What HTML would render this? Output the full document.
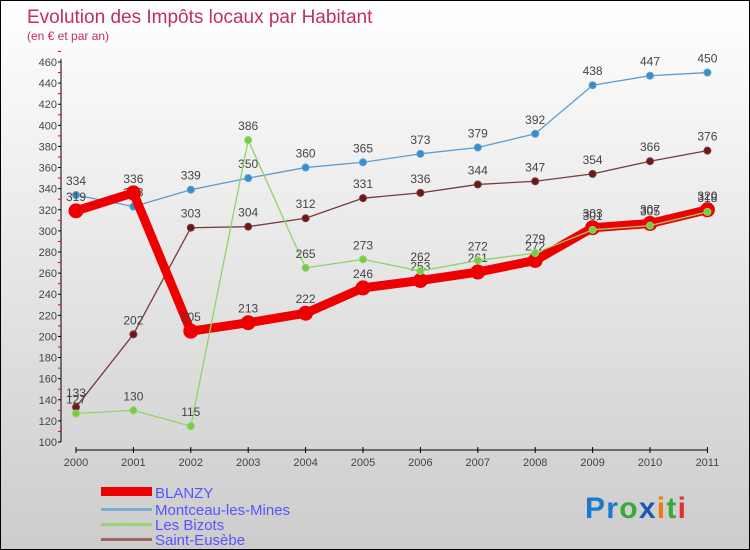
<!DOCTYPE html>
<html><head><meta charset="utf-8"><style>
body{margin:0}
#c{width:748px;height:548px;border:1px solid #000;background:linear-gradient(#fff,#ccc);position:relative;font-family:"Liberation Sans",sans-serif;overflow:hidden}
svg text{font-family:"Liberation Sans",sans-serif}
</style></head><body>
<div id="c">
<svg id="s" width="748" height="548">
<text x="26" y="22" font-size="19" fill="#c0305a">Evolution des Impôts locaux par Habitant</text>
<text x="26" y="39" font-size="12" fill="#c0305a">(en € et par an)</text>
<g id="axes"></g><g id="series"></g>
<g>
<rect x="100" y="486" width="51" height="9" fill="#e00"/>
<text x="154" y="497" font-size="15" fill="#55f">BLANZY</text>
<rect x="100" y="507" width="51" height="3" fill="#7aaed0"/>
<text x="154" y="514" font-size="15" fill="#55f">Montceau-les-Mines</text>
<rect x="100" y="522" width="51" height="3" fill="#99d37a"/>
<text x="154" y="529" font-size="15" fill="#55f">Les Bizots</text>
<rect x="100" y="537" width="51" height="3" fill="#9c6464"/>
<text x="154" y="544" font-size="15" fill="#55f">Saint-Eusèbe</text>
</g>
<text x="584" y="517" font-size="30" font-weight="bold" letter-spacing="1" textLength="102"><tspan fill="#1a7acc">Pr</tspan><tspan fill="#3aa93a">o</tspan><tspan fill="#1a5ab0">x</tspan><tspan fill="#f07a10">i</tspan><tspan fill="#3aa93a">t</tspan><tspan fill="#e03030">i</tspan></text>
</svg></div>
<script>
const years=[2000,2001,2002,2003,2004,2005,2006,2007,2008,2009,2010,2011];
const yTicks=[100,120,140,160,180,200,220,240,260,280,300,320,340,360,380,400,420,440,460];
const blanzy=[319,336,205,213,222,246,253,261,272,303,307,320];
const montceau=[334,323,339,350,360,365,373,379,392,438,447,450];
const bizots=[127,130,115,386,265,273,262,272,279,301,305,318];
const eusebe=[133,202,303,304,312,331,336,344,347,354,366,376];
const NS="http://www.w3.org/2000/svg";
const X=i=>75+i*57.4;
const Y=v=>441-(v-100)*380/360;
function el(t,a,p){const e=document.createElementNS(NS,t);for(const k in a)e.setAttribute(k,a[k]);p.appendChild(e);return e;}
const ax=document.getElementById('axes');
const yl=el('line',{x1:60,y1:58,x2:60,y2:441,stroke:'#000'},ax);


yTicks.forEach(v=>{
 el('line',{x1:57,x2:60,y1:Y(v),y2:Y(v),stroke:'#000'},ax);
 el('line',{x1:57,x2:60,y1:Y(v+10),y2:Y(v+10),stroke:'#e00'},ax);
 const t=el('text',{x:56,y:Y(v)+4,'font-size':11,'text-anchor':'end',fill:'#444'},ax);t.textContent=v;
 
 
});
const xl=el('line',{x1:75,y1:449,x2:X(11),y2:449,stroke:'#000'},ax);


years.forEach((yr,i)=>{
 el('line',{x1:X(i),x2:X(i),y1:446,y2:452,stroke:'#000'},ax);
 const t=el('text',{x:X(i),y:465,'font-size':11,'text-anchor':'middle',fill:'#444'},ax);t.textContent=yr;
 
 
});
const sg=document.getElementById('series');
function series(name,data,color,w,r,dot){
 const g=el('g',{},sg);
 
 
 const pl=el('polyline',{points:data.map((v,i)=>X(i)+','+Y(v)).join(' '),fill:'none',stroke:color,'stroke-width':w,'stroke-linejoin':'round'},g);
 
 
 data.forEach((v,i)=>{
  const c=el('circle',{cx:X(i),cy:Y(v),r:r,fill:dot,stroke:color,'stroke-width':1},g);
  
  
  const t=el('text',{x:X(i),y:Y(v)-10,'font-size':12,'text-anchor':'middle',fill:'#444'},g);t.textContent=v;
  
  
 });
}
series('montceau',montceau,'#5a9ed0',1.3,3.5,'#3a8ccc');
series('eusebe',eusebe,'#7a3a3a',1.3,3.5,'#6a1818');
series('blanzy',blanzy,'#ee0000',9,7,'#ee0000');
series('bizots',bizots,'#8fd46a',1.3,3.5,'#77cc44');
</script>
</body></html>
